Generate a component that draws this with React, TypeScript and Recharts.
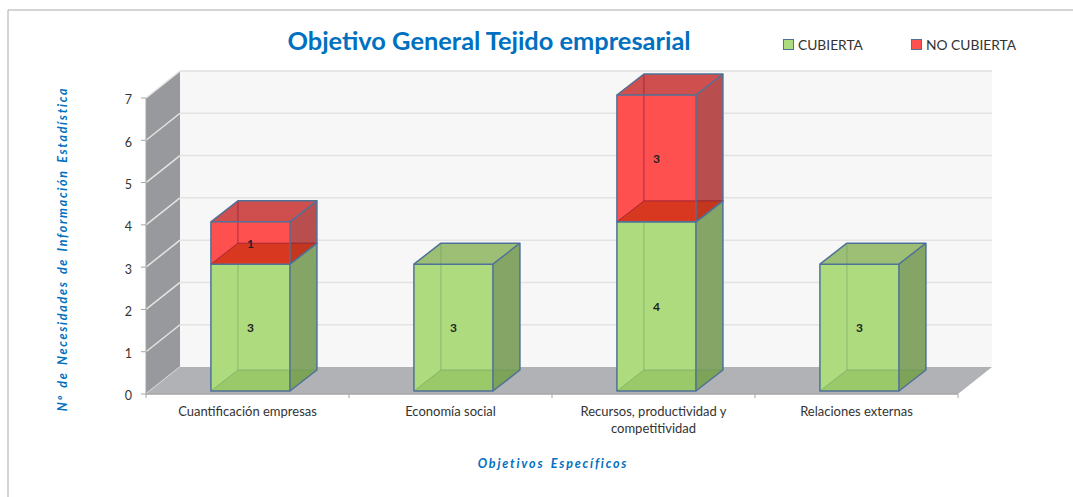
import { Bar, BarChart, LabelList, Legend, Text, XAxis, YAxis, usePlotArea } from "recharts";

const categories = [
  "Cuantificación empresas",
  "Economía social",
  "Recursos, productividad y competitividad",
  "Relaciones externas",
];
const cubierta = [3, 3, 4, 3];
const noCubierta = [1, null, 3, null];
const yTicks = [0, 1, 2, 3, 4, 5, 6, 7];

const data = categories.map((name, i) => ({
  name,
  cubierta: cubierta[i],
  noCubierta: noCubierta[i],
}));

const FONT = "Lato, 'Open Sans', sans-serif";
const BLUE = "#0070C0";
const EDGE = "#4F7198";

// fake 3D: offset of the back wall and of the bars
const WALL_DX = 34;
const WALL_DY = -27;
const BAR_DX = 27;
const BAR_DY = -21;
const BAR_SHIFT_X = 3;
const BAR_SHIFT_Y = -3;

function Room() {
  const plot = usePlotArea();
  if (!plot) return null;
  const { x, y, width, height } = plot;
  const bottom = y + height;
  const right = x + width;
  const yOf = (v: number) => bottom - (v / 7) * height;
  const band = width / categories.length;
  return (
    <g>
      <rect x={x + WALL_DX} y={y + WALL_DY} width={width} height={height} fill="#F7F7F7" />
      <line
        x1={x + WALL_DX}
        x2={right + WALL_DX}
        y1={y + WALL_DY}
        y2={y + WALL_DY}
        stroke="#E6E6E6"
        strokeWidth={2}
      />
      {yTicks.slice(1, -1).map((v) => (
        <line
          key={v}
          x1={x + WALL_DX}
          x2={right + WALL_DX}
          y1={yOf(v) + WALL_DY}
          y2={yOf(v) + WALL_DY}
          stroke="#E3E3E3"
          strokeWidth={1.5}
        />
      ))}
      <polygon
        points={`${x},${y} ${x + WALL_DX},${y + WALL_DY} ${x + WALL_DX},${bottom + WALL_DY} ${x},${bottom}`}
        fill="#98999D"
      />
      {yTicks.map((v) => (
        <line
          key={v}
          x1={x}
          y1={yOf(v)}
          x2={x + WALL_DX}
          y2={yOf(v) + WALL_DY}
          stroke="#E4E4E4"
          strokeWidth={1.5}
        />
      ))}
      <polygon
        points={`${x},${bottom} ${right},${bottom} ${right + WALL_DX},${bottom + WALL_DY} ${x + WALL_DX},${bottom + WALL_DY}`}
        fill="#B0B2B6"
      />
      <line x1={x} x2={right} y1={bottom} y2={bottom} stroke="#A6A6A6" strokeWidth={1.5} />
      <line x1={x} x2={x} y1={y} y2={bottom} stroke="#A6A6A6" />
      {[0, 1, 2, 3, 4].map((i) => (
        <line
          key={i}
          x1={x + band * i}
          x2={x + band * i}
          y1={bottom}
          y2={bottom + 4}
          stroke="#A6A6A6"
        />
      ))}
    </g>
  );
}

function Box(props: any) {
  const { x, y, width, height, front, side, top, hidden, under } = props;
  if (!height) return null;
  const l = x + BAR_SHIFT_X;
  const r = l + width;
  const t = y + BAR_SHIFT_Y;
  const b = t + height;
  const baseFace = `${l},${b} ${r},${b} ${r + BAR_DX},${b + BAR_DY} ${l + BAR_DX},${b + BAR_DY}`;
  return (
    <g>
      <rect x={l} y={t} width={width} height={height} fill={front} />
      <polygon points={`${r},${t} ${r + BAR_DX},${t + BAR_DY} ${r + BAR_DX},${b + BAR_DY} ${r},${b}`} fill={side} />
      <polygon points={`${l},${t} ${r},${t} ${r + BAR_DX},${t + BAR_DY} ${l + BAR_DX},${t + BAR_DY}`} fill={top} />
      <polygon points={baseFace} fill={under} />
      <polyline
        points={`${l},${b} ${l + BAR_DX},${b + BAR_DY} ${r + BAR_DX},${b + BAR_DY}`}
        fill="none"
        stroke={hidden}
      />
      <line x1={l + BAR_DX} x2={l + BAR_DX} y1={t + BAR_DY} y2={b + BAR_DY} stroke={hidden} />
      <g fill="none" stroke={EDGE} strokeWidth={1.5} strokeLinejoin="round">
        <rect x={l} y={t} width={width} height={height} />
        <polyline points={`${l},${t} ${l + BAR_DX},${t + BAR_DY} ${r + BAR_DX},${t + BAR_DY} ${r},${t}`} />
        <polyline points={`${r + BAR_DX},${t + BAR_DY} ${r + BAR_DX},${b + BAR_DY} ${r},${b}`} />
      </g>
    </g>
  );
}

function GreenBox(props: any) {
  return (
    <Box
      {...props}
      front="#AEDB7D"
      side="#85A566"
      top="#9CBF75"
      hidden="rgba(85,140,95,0.4)"
      under="rgba(110,160,60,0.3)"
    />
  );
}

function RedBox(props: any) {
  return (
    <Box
      {...props}
      front="#FF5050"
      side="#B94E4E"
      top="#CF4F4F"
      hidden="rgba(120,20,60,0.6)"
      under="rgba(200,45,10,0.7)"
    />
  );
}

function valueLabel(props: any) {
  const { x, y, width, height, value } = props;
  if (value == null) return null;
  return (
    <text
      x={x + width / 2 + BAR_SHIFT_X}
      y={y + height / 2 - 3}
      textAnchor="middle"
      dominantBaseline="central"
      fontFamily={FONT}
      fontSize={12}
      fontWeight={700}
      fill="#222"
    >
      {value}
    </text>
  );
}

function CategoryTick({ x, y, payload }: any) {
  return (
    <Text
      x={x}
      y={y + 1}
      width={185}
      textAnchor="middle"
      verticalAnchor="start"
      lineHeight={17}
      fontFamily={FONT}
      fontSize={13}
      fill="#333"
    >
      {payload.value}
    </Text>
  );
}

function LegendRow({ payload }: any) {
  return (
    <div style={{ position: "relative", height: 20, fontFamily: FONT, fontSize: 13.8, color: "#333" }}>
      {(payload || []).map((item: any, i: number) => (
        <div key={item.value} style={{ position: "absolute", left: i * 128, top: 0, whiteSpace: "nowrap", lineHeight: "18px" }}>
          <span
            style={{
              display: "inline-block",
              width: 9,
              height: 9,
              marginRight: 4,
              background: item.color,
              border: `1.5px solid ${EDGE}`,
            }}
          />
          {item.value}
        </div>
      ))}
    </div>
  );
}

export default function App() {
  return (
    <div style={{ position: "absolute", left: 0, top: 0, width: 1073, height: 497, background: "#fff", overflow: "hidden" }}>
      <BarChart
        width={1073}
        height={497}
        data={data}
        margin={{ top: 78, right: 115, bottom: 43, left: 116 }}
        barCategoryGap="30.5%"
      >
        <Room />
        <XAxis
          dataKey="name"
          interval={0}
          axisLine={false}
          tickLine={false}
          height={60}
          tick={<CategoryTick />}
          tickMargin={6}
        />
        <YAxis
          domain={[0, 7]}
          ticks={yTicks}
          width={30}
          axisLine={false}
          tickSize={5}
          tickMargin={9}
          tickLine={{ stroke: "#A6A6A6" }}
          tick={{ fontFamily: FONT, fontSize: 12.5, fill: "#333", dy: 2 }}
        />
        <Legend
          verticalAlign="top"
          align="left"
          content={<LegendRow />}
          wrapperStyle={{ left: 783, top: 36, width: 280 }}
        />
        <Bar
          dataKey="cubierta"
          name="CUBIERTA"
          stackId="a"
          fill="#AEDB7D"
          shape={<GreenBox />}
          isAnimationActive={false}
        >
          <LabelList dataKey="cubierta" content={valueLabel} />
        </Bar>
        <Bar
          dataKey="noCubierta"
          name="NO CUBIERTA"
          stackId="a"
          fill="#FF5050"
          shape={<RedBox />}
          isAnimationActive={false}
        >
          <LabelList dataKey="noCubierta" content={valueLabel} />
        </Bar>
        <text x={489} y={40} textAnchor="middle" dominantBaseline="central" fontFamily={FONT} fontSize={25.4} fontWeight={700} fill={BLUE}>
          Objetivo General Tejido empresarial
        </text>
        <text x={553} y={463} textAnchor="middle" dominantBaseline="central" fontFamily={FONT} fontSize={12.5} fontWeight={700} fontStyle="italic" letterSpacing={1.8} wordSpacing={2} fill={BLUE}>
          Objetivos Específicos
        </text>
        <text
          x={62}
          y={249}
          transform="rotate(-90 62 249)"
          textAnchor="middle"
          dominantBaseline="central"
          fontFamily={FONT}
          fontSize={12.5}
          fontWeight={700}
          fontStyle="italic"
          letterSpacing={1.7}
          wordSpacing={2}
          fill={BLUE}
        >
          Nº de Necesidades de Información Estadística
        </text>
        <line x1={8} y1={10} x2={1073} y2={10} stroke="#ABABAB" />
        <line x1={8} y1={10} x2={8} y2={497} stroke="#ABABAB" />
      </BarChart>
    </div>
  );
}
